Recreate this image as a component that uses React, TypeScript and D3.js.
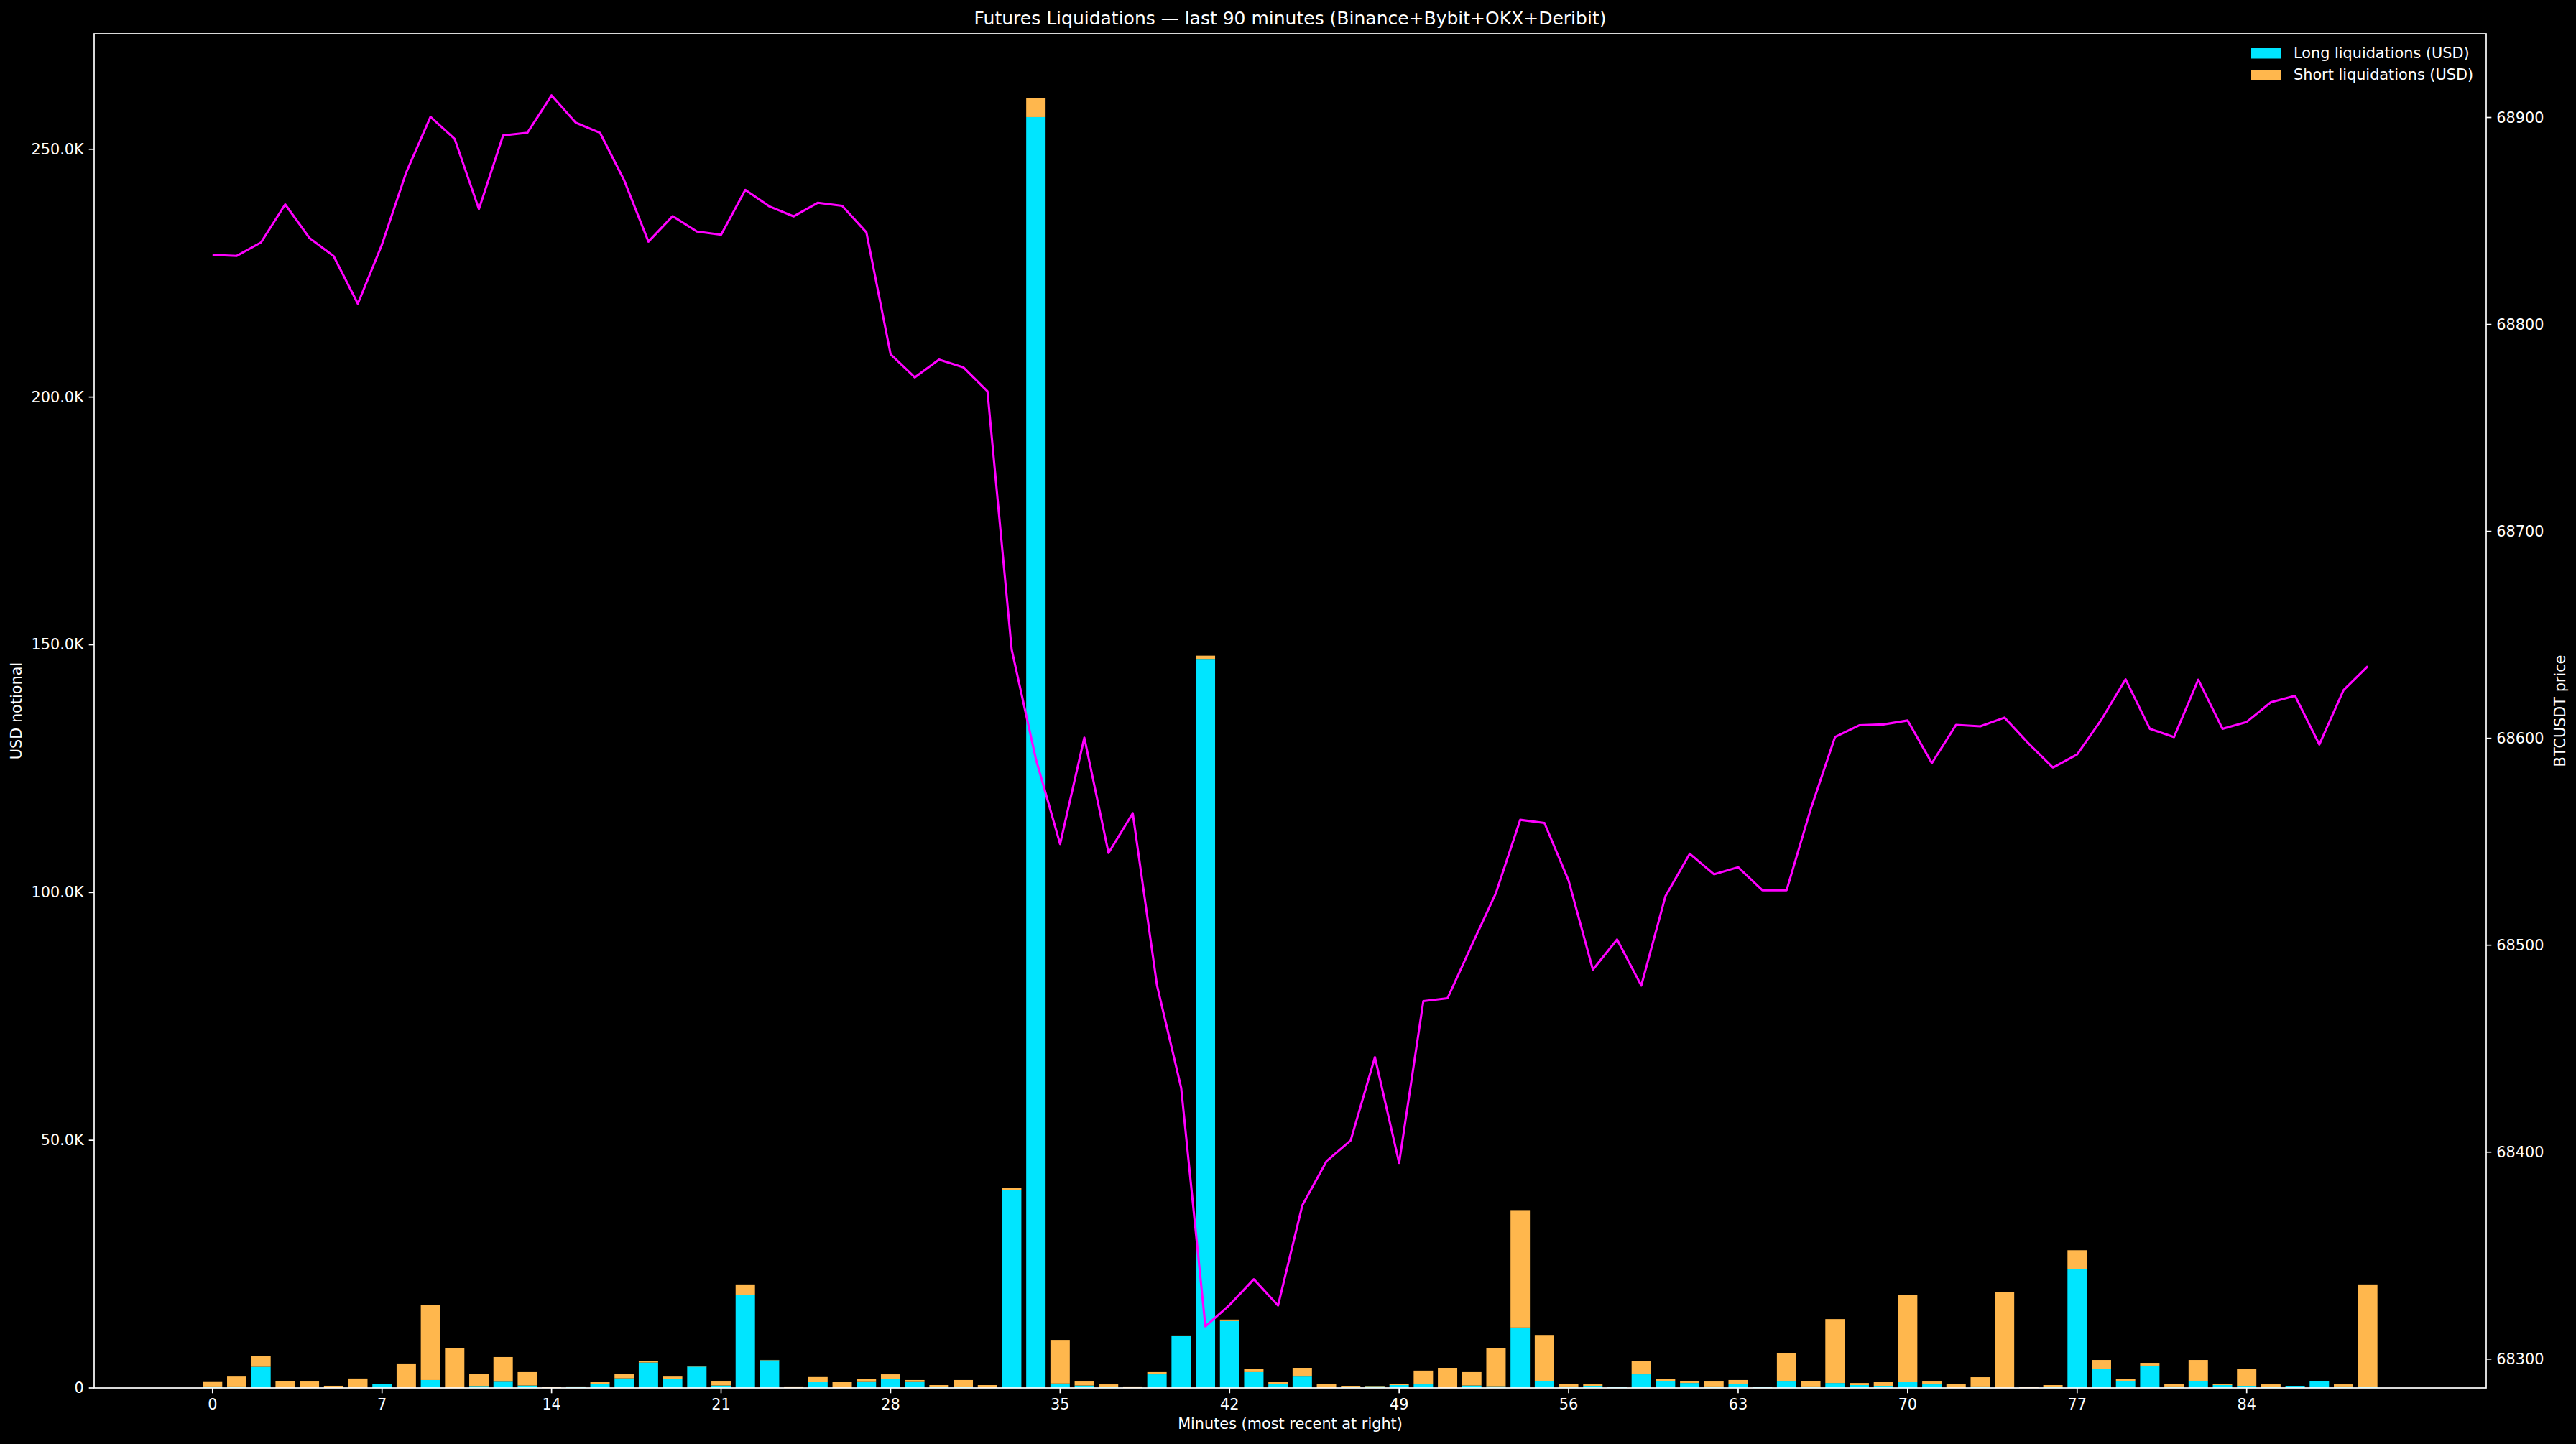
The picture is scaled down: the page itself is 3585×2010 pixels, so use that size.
import * as d3 from 'd3'

const W = 3585
const H = 2010
const M = { left: 131, right: 3460, top: 47, bottom: 1932 }

const TITLE = 'Futures Liquidations — last 90 minutes (Binance+Bybit+OKX+Deribit)'
const X_LABEL = 'Minutes (most recent at right)'
const Y_LABEL = 'USD notional'
const Y2_LABEL = 'BTCUSDT price'
const LEGEND = ['Long liquidations (USD)', 'Short liquidations (USD)']

const LONG_COLOR = '#00e5ff'
const SHORT_COLOR = '#ffb74d'
const PRICE_COLOR = '#ff00ff'

// liquidations per minute, in thousands of USD
const longK = [
  0.3, 0.3, 4.26, 0, 0, 0, 0, 0.8, 0, 1.6,
  0, 0.4, 1.26, 0.5, 0, 0.2, 0.77, 1.94, 5.13, 1.84,
  4.3, 0.5, 18.8, 5.6, 0, 1.16, 0, 1.2, 1.8, 1.2,
  0.2, 0.15, 0, 40.0, 256.5, 0.9, 0.5, 0.15, 0, 2.75,
  10.5, 147.0, 13.5, 3.2, 0.87, 2.3, 0, 0.1, 0.35, 0.58,
  0.72, 0, 0.5, 0.35, 12.2, 1.45, 0.3, 0.43, 0.15, 2.75,
  1.45, 1.0, 0.3, 0.87, 0.15, 1.3, 0.3, 1.0, 0.58, 0.43,
  1.16, 0.72, 0, 0.3, 0, 0, 0.15, 24.0, 3.9, 1.45,
  4.5, 0.3, 1.45, 0.58, 0.43, 0.15, 0.43, 1.45, 0.3, 0.15,
]
const shortK = [
  0.9, 2.0, 2.24, 1.45, 1.3, 0.44, 1.9, 0.07, 4.94, 15.1,
  8.0, 2.5, 4.98, 2.7, 0.2, 0.1, 0.39, 0.82, 0.37, 0.46,
  0.06, 0.8, 2.1, 0.06, 0.3, 1.04, 1.16, 0.68, 0.95, 0.4,
  0.38, 1.45, 0.58, 0.4, 3.8, 8.8, 0.8, 0.57, 0.3, 0.45,
  0.1, 0.8, 0.3, 0.7, 0.29, 1.76, 0.87, 0.33, 0.08, 0.29,
  2.78, 4.06, 2.7, 7.65, 23.7, 9.25, 0.57, 0.29, 0, 2.75,
  0.29, 0.45, 1.0, 0.73, 0, 5.7, 1.15, 12.9, 0.42, 0.73,
  17.64, 0.58, 0.87, 1.87, 19.4, 0.15, 0.43, 3.8, 1.75, 0.29,
  0.57, 0.57, 4.2, 0.14, 3.47, 0.57, 0, 0, 0.42, 20.75,
]
const price = [
  68833.6, 68833.1, 68839.6, 68858.0, 68841.8, 68833.0, 68810.0, 68838.7, 68873.5, 68900.3,
  68889.6, 68855.7, 68891.3, 68892.6, 68910.7, 68897.5, 68892.6, 68869.6, 68840.0, 68852.3,
  68844.9, 68843.3, 68865.0, 68857.0, 68852.2, 68858.8, 68857.3, 68844.5, 68785.6, 68774.4,
  68783.0, 68779.3, 68767.7, 68642.9, 68590.0, 68548.9, 68600.3, 68544.6, 68563.8, 68480.7,
  68431.0, 68315.8, 68326.2, 68338.6, 68325.9, 68374.2, 68395.6, 68405.7, 68445.9, 68394.8,
  68473.0, 68474.4, 68500.0, 68525.3, 68560.6, 68559.1, 68531.2, 68488.2, 68502.8, 68480.5,
  68523.8, 68544.2, 68534.3, 68537.7, 68526.6, 68526.6, 68565.9, 68600.6, 68606.3, 68606.7,
  68608.6, 68588.0, 68606.5, 68605.8, 68610.0, 68597.4, 68585.9, 68592.2, 68609.0, 68628.5,
  68604.6, 68600.6, 68628.3, 68604.6, 68607.9, 68617.4, 68620.5, 68597.0, 68623.3, 68634.8,
]
const xTicks = d3.range(0, 90, 7)
const yTicks = [0, 50000, 100000, 150000, 200000, 250000]

const FONT = 'DejaVu Sans, sans-serif'
const FS = 20.8
const TICK = 7.3

export default function App() {
  const minutes = price.map((_, i) => i)
  const rows = minutes.map((m) => ({ m, long: longK[m] * 1000, short: shortK[m] * 1000 }))
  const stack = d3.stack<any>().keys(['long', 'short'])(rows)

  // matplotlib-like 5% margins
  const xLo = -0.4, xHi = minutes.length - 1 + 0.4
  const xPad = (xHi - xLo) * 0.05
  const x = d3.scaleLinear().domain([xLo - xPad, xHi + xPad]).range([M.left, M.right])
  const maxTotal = d3.max(rows, (d) => d.long + d.short) ?? 1
  const y = d3.scaleLinear().domain([0, maxTotal * 1.05]).range([M.bottom, M.top])
  const [pMin, pMax] = d3.extent(price) as [number, number]
  const pPad = (pMax - pMin) * 0.05
  const yR = d3.scaleLinear().domain([pMin - pPad, pMax + pPad]).range([M.bottom, M.top])

  const bw = x(0.8) - x(0)
  const line = d3.line<number>().x((_, i) => x(i)).y((d) => yR(d))
  const fmtK = (v: number) => (v === 0 ? '0' : `${(v / 1000).toFixed(1)}K`)
  const colors = [LONG_COLOR, SHORT_COLOR]
  const midY = (M.top + M.bottom) / 2

  return (
    <svg width={W} height={H} style={{ position: 'absolute', left: 0, top: 0, background: '#000' }} fontFamily={FONT}>
      <rect width={W} height={H} fill="#000" />
      {stack.map((s, si) => (
        <g key={s.key} fill={colors[si]}>
          {s.map((d, i) => (
            <rect key={i} x={x(i) - bw / 2} width={bw} y={y(d[1])} height={Math.max(0, y(d[0]) - y(d[1]))} />
          ))}
        </g>
      ))}
      <path d={line(price) ?? undefined} fill="none" stroke={PRICE_COLOR} strokeWidth={3.1} strokeLinejoin="round" />

      <rect x={M.left} y={M.top} width={M.right - M.left} height={M.bottom - M.top} fill="none" stroke="#fff" strokeWidth={1.7} />

      <g fill="#fff" fontSize={FS}>
        {yTicks.map((t) => (
          <g key={t}>
            <line x1={M.left - TICK} x2={M.left} y1={y(t)} y2={y(t)} stroke="#fff" strokeWidth={1.7} />
            <text x={M.left - TICK - 7} y={y(t)} textAnchor="end" dominantBaseline="central">{fmtK(t)}</text>
          </g>
        ))}
        {yR.ticks(7).map((t) => (
          <g key={t}>
            <line x1={M.right} x2={M.right + TICK} y1={yR(t)} y2={yR(t)} stroke="#fff" strokeWidth={1.7} />
            <text x={M.right + TICK + 7} y={yR(t)} dominantBaseline="central">{t}</text>
          </g>
        ))}
        {xTicks.map((t) => (
          <g key={t}>
            <line x1={x(t)} x2={x(t)} y1={M.bottom} y2={M.bottom + TICK} stroke="#fff" strokeWidth={1.7} />
            <text x={x(t)} y={M.bottom + TICK + 7} textAnchor="middle" dominantBaseline="hanging">{t}</text>
          </g>
        ))}
        <text x={(M.left + M.right) / 2} y={34} textAnchor="middle" fontSize={25}>{TITLE}</text>
        <text x={(M.left + M.right) / 2} y={1989} textAnchor="middle">{X_LABEL}</text>
        <text transform={`translate(30,${midY}) rotate(-90)`} textAnchor="middle">{Y_LABEL}</text>
        <text transform={`translate(3570,${midY}) rotate(-90)`} textAnchor="middle">{Y2_LABEL}</text>
      </g>

      <g fontSize={FS} fill="#fff">
        {LEGEND.map((label, i) => (
          <g key={label} transform={`translate(3133,${74 + i * 30})`}>
            <rect x={0} y={-7} width={41.6} height={14.5} fill={colors[i]} />
            <text x={59} y={0} dominantBaseline="central">{label}</text>
          </g>
        ))}
      </g>
    </svg>
  )
}
